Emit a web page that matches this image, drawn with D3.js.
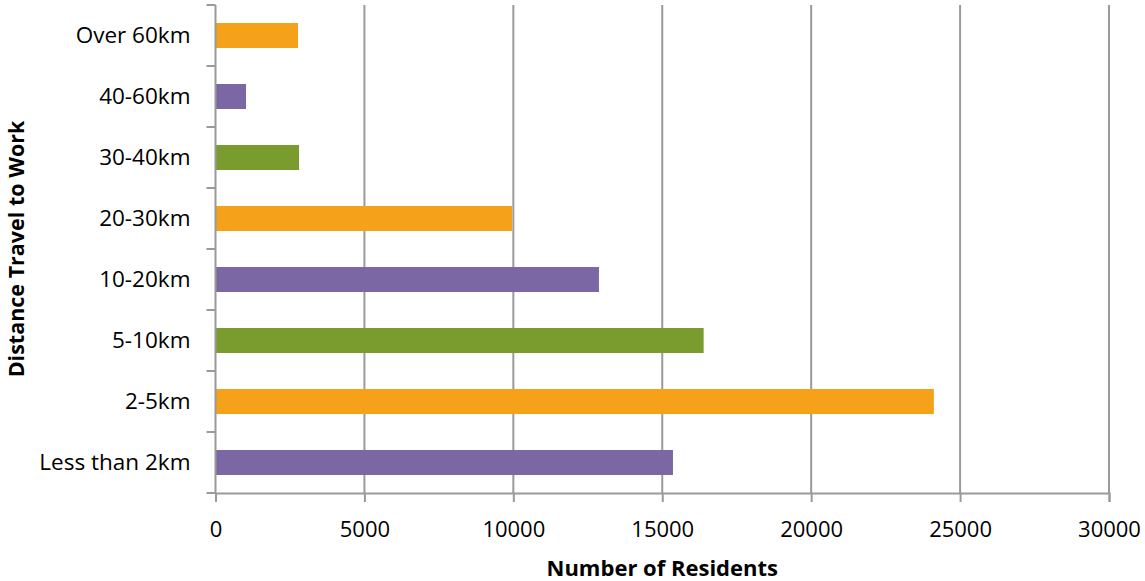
<!DOCTYPE html>
<html>
<head>
<meta charset="utf-8">
<script src="https://cdn.jsdelivr.net/npm/d3@7"></script>
<style>
  body { margin: 0; background: #fff; }
  svg text { font-family: "Open Sans", "Noto Sans", sans-serif; fill: #000; }
</style>
</head>
<body>
<div id="chart"></div>
<script>
const categories = ["Less than 2km", "2-5km", "5-10km", "10-20km", "20-30km", "30-40km", "40-60km", "Over 60km"];
const residents = [15360, 24120, 16390, 12875, 9955, 2805, 1025, 2770];
const barColors = ["#7B67A3", "#F5A11A", "#7A9B2E", "#7B67A3", "#F5A11A", "#7A9B2E", "#7B67A3", "#F5A11A"];
const xTicks = [0, 5000, 10000, 15000, 20000, 25000, 30000];

const width = 1145, height = 581;
const margin = { top: 5, right: 36, bottom: 88, left: 215.5 };
const innerW = width - margin.left - margin.right;
const innerH = height - margin.top - margin.bottom;

const svg = d3.select('#chart')
  .append('svg')
  .attr('width', width)
  .attr('height', height);

const g = svg.append('g')
  .attr('transform', `translate(${margin.left},${margin.top})`);

const xScale = d3.scaleLinear().domain([0, 30000]).range([0, innerW]);

// categories run bottom to top
const yScale = d3.scaleBand()
  .domain(categories.slice().reverse())
  .range([0, innerH])
  .paddingInner(0.59)
  .paddingOuter(0.295);

// vertical gridlines
g.selectAll('.grid')
  .data(xTicks.slice(1))
  .enter()
  .append('line')
  .attr('x1', d => xScale(d))
  .attr('x2', d => xScale(d))
  .attr('y1', 0)
  .attr('y2', innerH)
  .attr('stroke', '#9a9a9a')
  .attr('stroke-width', 2);

// bars
g.selectAll('.bar')
  .data(categories)
  .enter()
  .append('rect')
  .attr('x', 0)
  .attr('y', d => yScale(d))
  .attr('width', (d, i) => xScale(residents[i]))
  .attr('height', yScale.bandwidth())
  .attr('fill', (d, i) => barColors[i]);

// x axis
const xAxis = g.append('g')
  .attr('transform', `translate(0,${innerH})`)
  .call(d3.axisBottom(xScale).tickValues(xTicks).tickFormat(d3.format('d')).tickSize(9).tickPadding(19));
xAxis.select('.domain').attr('stroke', '#9a9a9a').attr('stroke-width', 2);
xAxis.selectAll('.tick line').attr('stroke', '#9a9a9a').attr('stroke-width', 2);
xAxis.selectAll('.tick text').style('font-size', '22px');

// y axis: ticks sit between categories
const yAxis = g.append('g');
yAxis.append('line')
  .attr('x1', 0).attr('x2', 0)
  .attr('y1', 0).attr('y2', innerH)
  .attr('stroke', '#9a9a9a').attr('stroke-width', 2);
const step = yScale.step();
const boundaries = d3.range(categories.length + 1).map(i => i * step);
yAxis.selectAll('.ytick')
  .data(boundaries)
  .enter()
  .append('line')
  .attr('x1', -9).attr('x2', 0)
  .attr('y1', d => d).attr('y2', d => d)
  .attr('stroke', '#9a9a9a').attr('stroke-width', 2);
yAxis.selectAll('.ylabel')
  .data(categories)
  .enter()
  .append('text')
  .attr('x', -25)
  .attr('y', d => yScale(d) + yScale.bandwidth() / 2)
  .attr('dy', '0.35em')
  .style('text-anchor', 'end')
  .style('font-size', '22.5px')
  .text(d => d);

// axis titles
svg.append('text')
  .attr('x', margin.left + innerW / 2)
  .attr('y', 576)
  .style('text-anchor', 'middle')
  .style('font-size', '22px')
  .style('font-weight', 'bold')
  .text('Number of Residents');

svg.append('text')
  .attr('transform', `translate(24,${margin.top + innerH / 2}) rotate(-90)`)
  .style('text-anchor', 'middle')
  .style('font-size', '21.5px')
  .style('font-weight', 'bold')
  .text('Distance Travel to Work');
</script>
</body>
</html>
